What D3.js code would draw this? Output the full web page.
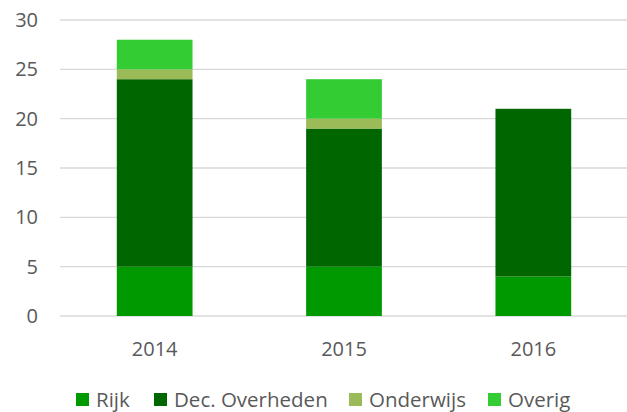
<!DOCTYPE html>
<html><head><meta charset="utf-8">
<script src="https://cdn.jsdelivr.net/npm/d3@7"></script>
<style>body{margin:0;background:#fff}svg{display:block}</style>
</head><body>
<svg id="c" width="627" height="412"></svg>
<script>
const years = ["2014","2015","2016"];
const seriesNames = ["Rijk","Dec. Overheden","Onderwijs","Overig"];
const rijk = [5,5,4];
const decOverheden = [19,14,17];
const onderwijs = [1,1,0];
const overig = [3,4,0];
const yTicks = [0,5,10,15,20,25,30];
const colors = ["#009900","#006600","#9BBB59","#33CC33"];

const rows = years.map((y,i)=>({year:y,"Rijk":rijk[i],"Dec. Overheden":decOverheden[i],"Onderwijs":onderwijs[i],"Overig":overig[i]}));
const stack = d3.stack().keys(seriesNames)(rows);

const svg = d3.select("#c");
const font = "'Open Sans', sans-serif";
const x = d3.scaleBand().domain(years).range([60,628]).paddingInner(0.6).paddingOuter(0.3);
const y = d3.scaleLinear().domain([0,30]).range([316,20]);

// gridlines
svg.append("g").selectAll("line").data(yTicks).join("line")
  .attr("x1",60).attr("x2",627).attr("y1",d=>y(d)).attr("y2",d=>y(d))
  .attr("stroke","#d9d9d9").attr("stroke-width",1.3);

// y axis labels
const yAxis = d3.axisLeft(y).tickValues(yTicks).tickSize(0).tickPadding(0);
const ga = svg.append("g").attr("transform","translate(38,0)").call(yAxis);
ga.select(".domain").remove();
ga.selectAll("text").attr("font-family",font).attr("font-size",20).attr("fill","#595959");

// bars
svg.append("g").selectAll("g").data(stack).join("g")
  .attr("fill",(d,i)=>colors[i])
  .selectAll("rect").data(d=>d).join("rect")
  .attr("x",d=>x(d.data.year)).attr("width",x.bandwidth())
  .attr("y",d=>y(d[1])).attr("height",d=>y(d[0])-y(d[1]));

// x axis
const xAxis = d3.axisBottom(x).tickSize(0).tickPadding(0);
const gx = svg.append("g").attr("transform","translate(0,356)").call(xAxis);
gx.select(".domain").remove();
gx.selectAll("text").attr("font-family",font).attr("font-size",20).attr("fill","#595959").attr("dy","0").attr("y",0);

// legend
const legX = [76,154,349,488];
const lg = svg.append("g").selectAll("g").data(seriesNames).join("g")
  .attr("transform",(d,i)=>`translate(${legX[i]},393)`);
lg.append("rect").attr("width",13).attr("height",13).attr("fill",(d,i)=>colors[i]);
lg.append("text").attr("x",20).attr("y",14).text(d=>d)
  .attr("font-family",font).attr("font-size",20.5).attr("fill","#595959");
</script>
</body></html>
